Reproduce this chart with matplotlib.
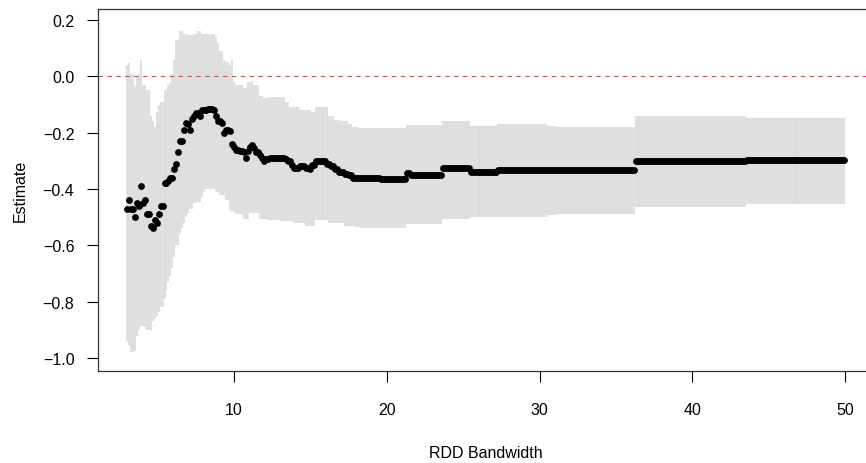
import numpy as np
import matplotlib
matplotlib.use("Agg")
import matplotlib.pyplot as plt

plt.rcParams['font.family'] = ['Liberation Sans', 'DejaVu Sans']

# bandwidth grid used for the estimates
bandwidth = np.arange(3.0, 50.0001, 0.13)

# Point estimate: value holds from each knot bandwidth to the next
est_knots = [3.0, 3.1, 3.25, 3.4, 3.55, 3.7, 3.85, 4.0, 4.15, 4.3, 4.45, 4.6, 4.75, 4.9,
             5.05, 5.2, 5.35, 5.65, 5.8, 6.05, 6.2, 6.35, 6.5, 6.65, 6.8, 6.95, 7.1, 7.25,
             7.4, 7.55, 7.7, 7.85, 8.3, 8.6, 8.75, 8.9, 9.2, 9.35, 9.5, 9.65, 9.8, 9.95,
             10.1, 10.4, 10.55, 10.7, 10.85, 11.0, 11.15, 11.3, 11.45, 11.6, 11.75, 11.9,
             12.05, 12.35, 13.3, 13.5, 13.7, 13.85, 14.3, 14.6, 14.9, 15.05, 15.3, 16.1,
             16.3, 16.6, 16.9, 17.2, 17.5, 17.8, 19.6, 21.25, 21.55, 23.6, 25.4, 27.2,
             36.25, 43.5]
est_values = [-0.47, -0.44, -0.47, -0.50, -0.45, -0.46, -0.39, -0.45, -0.44, -0.49, -0.53,
              -0.54, -0.51, -0.52, -0.49, -0.46, -0.38, -0.37, -0.36, -0.33, -0.31, -0.27,
              -0.23, -0.19, -0.165, -0.17, -0.19, -0.15, -0.14, -0.13, -0.14, -0.12, -0.115,
              -0.12, -0.14, -0.16, -0.165, -0.20, -0.19, -0.195, -0.24, -0.25, -0.26, -0.265,
              -0.27, -0.29, -0.265, -0.25, -0.245, -0.255, -0.27, -0.28, -0.29, -0.30,
              -0.295, -0.29, -0.295, -0.30, -0.315, -0.325, -0.32, -0.325, -0.33, -0.315,
              -0.30, -0.31, -0.32, -0.33, -0.34, -0.345, -0.35, -0.36, -0.365, -0.342,
              -0.35, -0.327, -0.338, -0.333, -0.30, -0.297]

# Upper 95% bound
hi_knots = [3.0, 3.1, 3.25, 3.4, 3.55, 3.7, 3.85, 4.0, 4.3, 4.45, 4.6, 4.75, 4.9, 5.05,
            5.2, 5.35, 5.65, 5.8, 5.95, 6.1, 6.25, 6.4, 6.7, 7.0, 7.3, 7.6, 7.9, 8.5, 8.8,
            8.95, 9.1, 9.3, 9.5, 9.65, 9.8, 9.95, 10.1, 10.55, 10.85, 11.15, 11.3, 11.6,
            11.9, 12.35, 13.4, 13.6, 14.3, 15.0, 15.3, 16.15, 16.6, 17.0, 17.45, 17.75,
            18.2, 21.25, 23.6, 25.4, 27.2, 30.5, 31.2, 36.25, 43.5]
hi_values = [0.04, 0.046, 0.01, -0.036, 0.0, 0.01, 0.057, -0.03, -0.05, -0.14, -0.16, -0.18,
             -0.125, -0.10, -0.09, -0.05, -0.03, -0.025, 0.01, 0.057, 0.13, 0.16, 0.15,
             0.145, 0.15, 0.16, 0.15, 0.15, 0.14, 0.117, 0.09, 0.057, 0.05, 0.04, 0.06,
             -0.02, -0.03, -0.04, -0.02, -0.015, -0.03, -0.07, -0.078, -0.075, -0.09,
             -0.11, -0.12, -0.125, -0.11, -0.14, -0.155, -0.16, -0.17, -0.18, -0.185,
             -0.173, -0.157, -0.176, -0.17, -0.175, -0.18, -0.14, -0.147]

# Lower 95% bound
lo_knots = [3.0, 3.1, 3.25, 3.4, 3.55, 3.7, 3.85, 4.0, 4.15, 4.3, 4.45, 4.6, 4.75, 4.9,
            5.05, 5.2, 5.35, 5.5, 5.65, 5.8, 5.95, 6.1, 6.25, 6.4, 6.55, 6.7, 6.85, 7.0,
            7.15, 7.3, 7.6, 7.9, 8.05, 8.2, 8.8, 9.1, 9.4, 9.7, 9.85, 10.15, 10.6, 11.05,
            11.6, 12.2, 13.0, 13.8, 14.6, 15.3, 16.2, 17.2, 17.9, 18.3, 21.25, 23.6, 25.4,
            27.2, 30.5, 31.2, 36.25, 43.5]
lo_values = [-0.94, -0.955, -0.98, -0.975, -0.92, -0.90, -0.885, -0.885, -0.89, -0.90,
             -0.905, -0.87, -0.86, -0.85, -0.835, -0.82, -0.79, -0.76, -0.73, -0.71, -0.68,
             -0.64, -0.60, -0.56, -0.54, -0.52, -0.50, -0.49, -0.47, -0.45, -0.445, -0.43,
             -0.41, -0.40, -0.41, -0.42, -0.44, -0.475, -0.48, -0.49, -0.505, -0.486,
             -0.505, -0.51, -0.515, -0.52, -0.53, -0.51, -0.52, -0.53, -0.536, -0.54,
             -0.524, -0.507, -0.50, -0.498, -0.492, -0.49, -0.463, -0.452]

y_ticks = [-1.0, -0.8, -0.6, -0.4, -0.2, 0.0, 0.2]
x_ticks = [10, 20, 30, 40, 50]


def step_values(knots, values, x):
    idx = np.searchsorted(knots, x + 1e-9, side='right') - 1
    return np.asarray(values)[np.clip(idx, 0, len(values) - 1)]


est = step_values(est_knots, est_values, bandwidth)
hi = step_values(hi_knots, hi_values, bandwidth)
lo = step_values(lo_knots, lo_values, bandwidth)

fig = plt.figure(figsize=(8.66, 4.64), dpi=100)
ax = fig.add_axes([98 / 866, 1 - 372 / 464, 776 / 866, 362 / 464])

ax.vlines(bandwidth, lo, hi, color='#d6d6d6', linewidth=1.1)
ax.axhline(0, color='#e0484f', linestyle=(0, (4, 4)), linewidth=0.8)
ax.scatter(bandwidth, est, s=24, color='black', linewidths=0, zorder=3)

ax.set_xlim(1.12, 51.88)
ax.set_ylim(-1.046, 0.239)
ax.set_xticks(x_ticks)
ax.set_yticks(y_ticks)
ax.set_yticklabels(['\u22121.0', '\u22120.8', '\u22120.6', '\u22120.4', '\u22120.2', '0.0', '0.2'])
ax.tick_params(direction='out', length=8, width=0.8, labelsize=11.5, pad=9)
ax.tick_params(axis='x', pad=14)
for s in ax.spines.values():
    s.set_linewidth(0.9)
    s.set_color('#333333')

ax.set_xlabel('RDD Bandwidth', fontsize=11.5)
ax.xaxis.set_label_coords(0.5, -0.205)
ax.set_ylabel('Estimate', fontsize=11.5)
ax.yaxis.set_label_coords(-0.09, 0.5)

fig.savefig('out.png', dpi=100)
